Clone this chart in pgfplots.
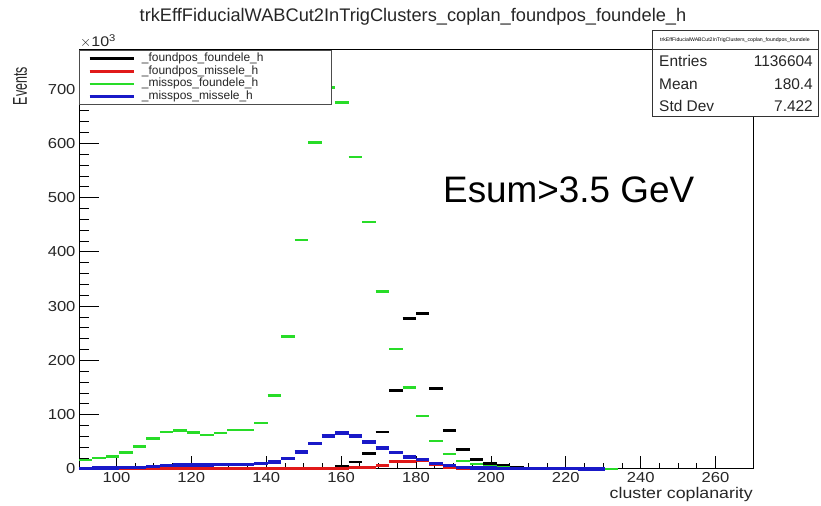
\documentclass[border=0pt]{standalone}
\usepackage{pgfplots}
\pgfplotsset{compat=1.18}
\usepackage{fontspec}
\setmainfont{Liberation Sans}
\newfontfamily\rootfont{Liberation Sans}[FakeStretch=1.15]
\definecolor{rgreen}{RGB}{40,220,40}
\definecolor{rblue}{RGB}{25,25,200}
\definecolor{rred}{RGB}{225,25,25}

% bin left edge, content (x10^3); last row closes the final bin
\pgfplotstableread{
x y
140.4 0.2
144.0 0.3
147.6 0.5
151.2 0.8
154.8 1.5
158.4 4
162.0 13
165.6 29
169.2 68
172.8 145
176.4 277
180.0 286
183.6 148
187.2 71
190.8 36
194.4 18
198.0 10
201.6 6
205.2 3
208.8 1.5
212.4 0.8
216.0 0.4
219.6 0.4
}\blackdata
\pgfplotstableread{
x y
90.0 0.5
93.6 0.5
97.2 0.5
100.8 0.5
104.4 0.5
108.0 0.5
111.6 0.5
115.2 0.5
118.8 0.5
122.4 0.5
126.0 0.5
129.6 0.5
133.2 0.5
136.8 0.5
140.4 0.5
144.0 0.5
147.6 0.6
151.2 0.8
154.8 1
158.4 1.5
162.0 2
165.6 3
169.2 6
172.8 13
176.4 14
180.0 16
183.6 8
187.2 3
190.8 1.5
194.4 0.8
198.0 0.5
201.6 0.3
205.2 0.3
208.8 0.3
212.4 0.3
216.0 0.3
219.6 0.3
223.2 0.3
226.8 0.3
230.4 0.3
}\reddata
\pgfplotstableread{
x y
90.0 17
93.6 20
97.2 23
100.8 30
104.4 41
108.0 56
111.6 68
115.2 71
118.8 67
122.4 63
126.0 66
129.6 72
133.2 72
136.8 85
140.4 135
144.0 244
147.6 422
151.2 602
154.8 703
158.4 675
162.0 575
165.6 455
169.2 327
172.8 221
176.4 150
180.0 98
183.6 52
187.2 28
190.8 15
194.4 9
198.0 5
201.6 3
205.2 2
208.8 1
212.4 0.6
216.0 0.4
219.6 0.3
223.2 0.2
226.8 0.2
230.4 0.3
234.0 0.3
}\greendata
\pgfplotstableread{
x y
90.0 1
93.6 1.5
97.2 2
100.8 2.5
104.4 3
108.0 5
111.6 6
115.2 7
118.8 7
122.4 7.5
126.0 8
129.6 8
133.2 8.5
136.8 10
140.4 13
144.0 19
147.6 31
151.2 47
154.8 61
158.4 66
162.0 61
165.6 50
169.2 39
172.8 30
176.4 22
180.0 17
183.6 10
187.2 6
190.8 3
194.4 2
198.0 1.5
201.6 1.2
205.2 1
208.8 0.8
212.4 0.6
216.0 0.5
219.6 0.4
223.2 0.3
226.8 0.3
230.4 0.3
}\bluedata

\begin{document}
\begin{tikzpicture}[x=1bp,y=1bp]
\path[use as bounding box] (0,0) rectangle (821,506);
\begin{axis}[
  at={(79bp,37bp)}, anchor=south west,
  scale only axis, width=674bp, height=419bp,
  xmin=90, xmax=270, ymin=0, ymax=772,
  xtick={100,120,...,260}, ytick={0,100,...,700},
  minor x tick num=3, minor y tick num=4,
  xtick pos=bottom, ytick pos=left, tick align=inside,
  xtick style={/pgfplots/major tick length=12.6bp, /pgfplots/minor tick length=6.3bp},
  ytick style={/pgfplots/major tick length=20bp, /pgfplots/minor tick length=10bp},
  tick style={black, line width=0.8bp},
  axis line style={line width=1bp},
  ticklabel style={font=\rootfont\fontsize{14.5}{14.5}\selectfont, text=black!85},
  /pgf/number format/assume math mode=true,
  clip=false,
  legend cell align=left,
  legend style={at={(0,1)}, anchor=north west, draw=black!70, line width=1.2bp,
    fill=white, font=\fontsize{12}{12}\selectfont, text=black!85,
    inner xsep=8.5bp, inner ysep=1.5bp, column sep=6bp,
    nodes={inner sep=1bp, text height=8.3bp, text depth=2.5bp}},
  legend image code/.code={\draw[#1, line width=2.8bp] (0bp,0bp) -- (44bp,0bp);},
]
\addplot[black, line width=2.8bp, jump mark left] table {\blackdata};
\addlegendentry{\makebox[180bp][l]{\_foundpos\_foundele\_h}}
\addplot[rred, line width=3bp, jump mark left] table {\reddata};
\addlegendentry{\makebox[180bp][l]{\_foundpos\_missele\_h}}
\addplot[rgreen, line width=2.5bp, jump mark left] table {\greendata};
\addlegendentry{\makebox[180bp][l]{\_misspos\_foundele\_h}}
\addplot[rblue, line width=3.4bp, jump mark left] table {\bluedata};
\addlegendentry{\makebox[180bp][l]{\_misspos\_missele\_h}}
\end{axis}
% title
\node[anchor=base, font=\fontsize{18.3}{18.3}\selectfont, text=black!85] at (413,484) {trkEffFiducialWABCut2InTrigClusters\_coplan\_foundpos\_foundele\_h};
% exponent
\node[anchor=base west, inner sep=0, font=\rootfont\fontsize{14}{14}\selectfont, text=black!85] at (80,459) {$\times$10\textsuperscript{3}};
% y label
\node[anchor=north, inner sep=0, font=\fontsize{12.5}{12.5}\selectfont, text=black!85] at (20,439) {\scalebox{1.6}[1]{\rotatebox{90}{Events}}};
% x label
\node[anchor=base east, inner sep=0, font=\rootfont\fontsize{15.5}{15.5}\selectfont, text=black!85] at (753,7) {cluster coplanarity};
% annotation
\node[anchor=base west, inner sep=0, font=\fontsize{37}{37}\selectfont] at (443,303) {Esum>3.5 GeV};
% stats box
\draw[fill=white, draw=black!80, line width=1bp] (652,389) rectangle (818,475);
\draw[black!80, line width=1bp] (652,456) -- (818,456);
\node[anchor=center, inner sep=0, font=\fontsize{5.2}{5.2}\selectfont] at (735,465.5) {trkEffFiducialWABCut2InTrigClusters\_coplan\_foundpos\_foundele};
\begin{scope}[every node/.style={inner sep=0, font=\fontsize{15.5}{15.5}\selectfont, text=black!85}]
\node[anchor=base west] at (659,439) {Entries};
\node[anchor=base east] at (813,439) {1136604};
\node[anchor=base west] at (659,416) {Mean};
\node[anchor=base east] at (813,416) {180.4};
\node[anchor=base west] at (659,394) {Std Dev};
\node[anchor=base east] at (813,394) {7.422};
\end{scope}
\end{tikzpicture}
\end{document}
